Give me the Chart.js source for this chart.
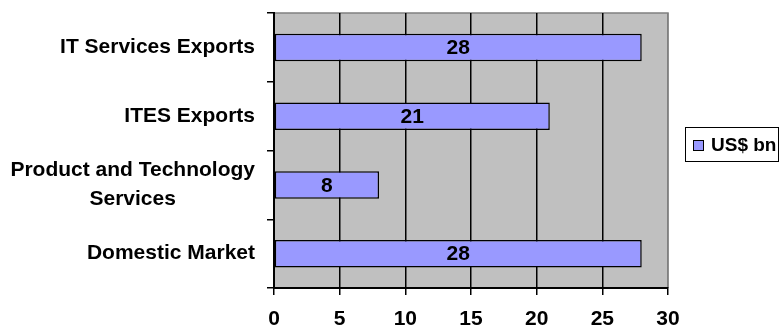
<!DOCTYPE html>
<html>
<head>
<meta charset="utf-8">
<script src="https://cdn.jsdelivr.net/npm/chart.js@4/dist/chart.umd.min.js"></script>
<style>
  html, body { margin: 0; padding: 0; background: #fff; }
  #wrap { width: 782px; height: 332px; }
</style>
</head>
<body>
<div id="wrap"><canvas id="marketChart"></canvas></div>
<script>
const categories = ["IT Services Exports", "ITES Exports", ["Product and Technology", "Services"], "Domestic Market"];
const values = [28, 21, 8, 28];
const seriesName = "US$ bn";
const xMin = 0;
const xMax = 30;
const xStep = 5;

const FONT = "'Liberation Sans', Arial, sans-serif";
const BAR_FILL = "#9999FF";

// gray plot background + gray top/right frame
const plotFrame = {
  id: "plotFrame",
  beforeDraw(chart) {
    const a = chart.chartArea;
    const ctx = chart.ctx;
    ctx.save();
    ctx.fillStyle = "#C0C0C0";
    ctx.fillRect(a.left, a.top, a.right - a.left, a.bottom - a.top);
    ctx.strokeStyle = "#808080";
    ctx.lineWidth = 1.5;
    ctx.beginPath();
    ctx.moveTo(a.left, a.top);
    ctx.lineTo(a.right, a.top);
    ctx.lineTo(a.right, a.bottom);
    ctx.stroke();
    ctx.restore();
  }
};

// category labels: right-aligned block, lines centred within it
const catLabels = {
  id: "catLabels",
  afterDraw(chart) {
    const y = chart.scales.y;
    const ctx = chart.ctx;
    ctx.save();
    ctx.font = "bold 21px " + FONT;
    ctx.fillStyle = "#000";
    ctx.textAlign = "center";
    ctx.textBaseline = "middle";
    const right = chart.chartArea.left - 19;
    const lh = 29;
    categories.forEach((lab, i) => {
      const lines = Array.isArray(lab) ? lab : [lab];
      const w = Math.max(...lines.map(l => ctx.measureText(l).width));
      const cy = y.getPixelForValue(i);
      const start = cy - (lines.length - 1) * lh / 2;
      lines.forEach((l, k) => ctx.fillText(l, right - w / 2, start + k * lh));
    });
    ctx.restore();
  }
};

// value labels inside bars
const barValues = {
  id: "barValues",
  afterDatasetsDraw(chart) {
    const meta = chart.getDatasetMeta(0);
    const ctx = chart.ctx;
    ctx.save();
    ctx.font = "bold 21px " + FONT;
    ctx.fillStyle = "#000";
    ctx.textAlign = "center";
    ctx.textBaseline = "middle";
    meta.data.forEach((bar, i) => {
      const p = bar.getProps(["x", "y", "base"], true);
      ctx.fillText(String(values[i]), (p.x + p.base) / 2, p.y + 1);
    });
    ctx.restore();
  }
};

// boxed legend on the right
const boxLegend = {
  id: "boxLegend",
  afterDraw(chart) {
    const ctx = chart.ctx;
    ctx.save();
    ctx.fillStyle = "#fff";
    ctx.fillRect(685, 127, 94, 35);
    ctx.strokeStyle = "#000";
    ctx.lineWidth = 1;
    ctx.strokeRect(685.5, 127.5, 93, 34);
    ctx.fillStyle = BAR_FILL;
    ctx.fillRect(693, 140, 11, 11);
    ctx.strokeRect(693.5, 140.5, 10, 10);
    ctx.fillStyle = "#000";
    ctx.font = "bold 19px " + FONT;
    ctx.textBaseline = "middle";
    ctx.textAlign = "left";
    ctx.fillText(seriesName, 711, 146);
    ctx.restore();
  }
};

new Chart(document.getElementById("marketChart"), {
  type: "bar",
  data: {
    labels: categories,
    datasets: [{
      label: seriesName,
      data: values,
      backgroundColor: BAR_FILL,
      borderColor: "#000",
      borderWidth: 1.5,
      borderSkipped: false,
      categoryPercentage: 1,
      barPercentage: 0.4
    }]
  },
  options: {
    indexAxis: "y",
    responsive: true,
    maintainAspectRatio: false,
    animation: false,
    layout: { padding: { top: 13, right: 114, left: 0, bottom: 0 } },
    plugins: {
      legend: { display: false },
      tooltip: { enabled: false }
    },
    scales: {
      x: {
        min: xMin,
        max: xMax,
        ticks: {
          stepSize: xStep,
          color: "#000",
          padding: 12,
          font: { family: FONT, size: 21, weight: "bold" }
        },
        grid: {
          color: ctx => (ctx.tick && ctx.tick.value === xMax ? "#808080" : "#000"),
          lineWidth: 1.5,
          tickLength: 7,
          tickColor: "#000"
        },
        border: { color: "#000", width: 2 },
        afterFit(scale) { scale.height = 44; }
      },
      y: {
        ticks: { display: false },
        grid: {
          drawOnChartArea: false,
          offset: true,
          tickLength: 7,
          color: "#000",
          lineWidth: 1.5
        },
        border: { color: "#000", width: 2 },
        afterFit(scale) { scale.width = 274; }
      }
    }
  },
  plugins: [plotFrame, catLabels, barValues, boxLegend]
});
</script>
</body>
</html>
